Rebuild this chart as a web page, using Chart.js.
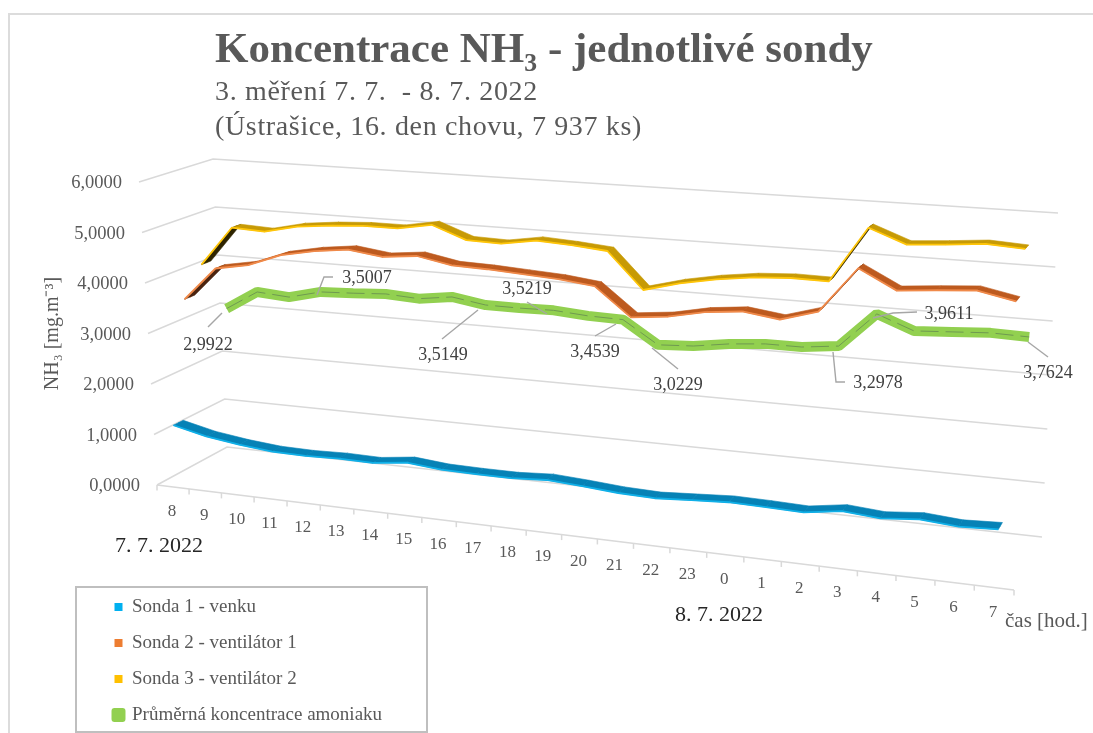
<!DOCTYPE html>
<html><head><meta charset="utf-8">
<style>html,body{margin:0;padding:0;background:#fff}canvas{display:block}</style>
<script src="https://cdn.jsdelivr.net/npm/chart.js@4/dist/chart.umd.js"></script>
</head><body><canvas id="c" width="1093" height="733"></canvas>
<script>
const hours = ['8','9','10','11','12','13','14','15','16','17','18','19','20','21','22','23','0','1','2','3','4','5','6','7'];
const sonda1 = [1.18,1.03,0.94,0.88,0.87,0.89,0.88,0.96,0.90,0.89,0.89,0.93,0.89,0.84,0.82,0.86,0.90,0.89,0.87,0.97,0.92,0.98,0.93,0.96];
const sonda2 = [3.53,4.20,4.32,4.57,4.70,4.78,4.69,4.76,4.63,4.61,4.57,4.53,4.45,3.92,3.99,4.13,4.20,4.11,4.31,5.15,4.80,4.86,4.91,4.77];
const sonda3 = [4.08,4.88,4.85,5.00,5.07,5.11,5.11,5.23,4.98,4.96,5.07,5.03,4.97,4.28,4.46,4.59,4.68,4.72,4.71,5.75,5.49,5.54,5.60,5.56];
const prumer = [2.9922,3.39,3.34,3.5007,3.53,3.57,3.53,3.62,3.5149,3.51,3.5219,3.47,3.4539,3.0229,3.06,3.16,3.22,3.22,3.2978,3.9611,3.70,3.74,3.78,3.7624];
const seriesNames = ['Sonda 1 - venku','Sonda 2 - ventilátor 1','Sonda 3 - ventilátor 2','Průměrná koncentrace amoniaku'];
const titleText = 'Koncentrace NH₃ - jednotlivé sondy';
const subtitleLines = ['3. měření 7. 7.  - 8. 7. 2022','(Ústrašice, 16. den chovu, 7 937 ks)'];
const labelledIndexes = [0,3,8,10,12,13,18,19,23];

const SERIF = '"Liberation Serif", serif';
const GREY = '#595959';

/* box of the 3-D plot: the eight corners, in screen pixels */
const box = {
  flb:[157,485], flt:[139,182], blb:[227,447], blt:[213,159],
  brb:[1042,537], brt:[1058,213], frb:[1014,590], frt:[1032,242]
};
const K = 1.118;
const lerp = (a,b,t)=>a+(b-a)*t;
const lerp2 = (a,b,t)=>[lerp(a[0],b[0],t),lerp(a[1],b[1],t)];
function project(chart,px,py,d){
  const a = chart.chartArea;
  const u = (px-a.left)/(a.right-a.left);
  const v = (a.bottom-py)/(a.bottom-a.top);
  const s = u/(u+(1-u)*K);
  const fl = lerp2(box.flb,box.flt,v), bl = lerp2(box.blb,box.blt,v);
  const fr = lerp2(box.frb,box.frt,v), br = lerp2(box.brb,box.brt,v);
  return lerp2(lerp2(fl,bl,d),lerp2(fr,br,d),s);
}
const depthOf = i => (2*i+1)/8;

class SlantX extends Chart.CategoryScale {
  _computeLabelItems(ca){
    const items = super._computeLabelItems(ca);
    items.forEach(it=>{
      const p = project(this.chart,it.options.translation[0],this.chart.chartArea.bottom,0);
      it.options.translation = [p[0]-1,p[1]+24.5];
      it.options.textAlign = 'center';
      it.options.textBaseline = 'middle';
      it.textOffset = 0;
    });
    return items;
  }
}
SlantX.id = 'slantX';
SlantX.defaults = Chart.CategoryScale.defaults;
class SlantY extends Chart.LinearScale {
  _computeLabelItems(ca){
    const items = super._computeLabelItems(ca);
    items.forEach(it=>{
      const p = project(this.chart,this.chart.chartArea.left,it.options.translation[1],0);
      it.options.translation = [p[0]-17,p[1]+1.5];
      it.options.textAlign = 'right';
      it.options.textBaseline = 'middle';
      it.textOffset = 0;
    });
    return items;
  }
}
SlantY.id = 'slantY';
SlantY.defaults = Chart.LinearScale.defaults;
Chart.register(SlantX,SlantY);

const ribbons = [
  {half:0.07, face:'#0682b6', under:'#0682b6', edge:'#10b0e8'},
  {half:0.07, face:'#bd5a1f', under:'#4a2410', edge:'#f08a4a'},
  {half:0.065, face:'#c79a05', under:'#2e2400', edge:'#ffc60a'},
  null
];
const leaders = {
  0:{pts:[[222,313],[208,327]], text:[208,345]},
  3:{pts:[[317,295],[324,277],[333,277]], text:[367,278]},
  8:{pts:[[478,310],[442,339]], text:[443,355]},
  10:{pts:[[547,314],[527,302]], text:[527,289]},
  12:{pts:[[616,324],[595,336]], text:[595,352]},
  13:{pts:[[652,348],[678,369]], text:[678,385]},
  18:{pts:[[833,352],[836,382],[845,382]], text:[878,383]},
  19:{pts:[[873,318],[893,313],[917,312]], text:[949,314]},
  23:{pts:[[1028,342],[1048,357]], text:[1048,373]}
};
const notes = [
  {text:'7. 7. 2022', x:115, y:546, size:22, color:'#262626'},
  {text:'8. 7. 2022', x:675, y:615, size:22, color:'#262626'},
  {text:'čas [hod.]', x:1005, y:621, size:21, color:GREY}
];

const projector = {
  id:'projector',
  afterLayout(chart){
    chart.boxes.forEach(b=>{
      if(b.options && b.options.text && b.position==='top'){
        b.left = 215; b.right = 1000;
        if(Array.isArray(b.options.text) && !b.$spaced){
          const orig = b.draw;
          b.draw = function(){
            const ctx = chart.ctx;
            ctx.letterSpacing = '0.65px';
            orig.apply(b,arguments);
            ctx.letterSpacing = '0px';
          };
          b.$spaced = true;
        }
      }
    });
    const lg = chart.legend;
    lg.left = 97.5; lg.top = 580.5; lg.right = 425; lg.bottom = 2000;
  },
  afterDatasetsUpdate(chart){
    chart.data.datasets.forEach((ds,i)=>{
      const meta = chart.getDatasetMeta(i), x = chart.scales.x, y = chart.scales.y;
      ds.data.forEach((val,j)=>{
        const p = project(chart,x.getPixelForValue(j),y.getPixelForValue(val),depthOf(i));
        meta.data[j].x = p[0]; meta.data[j].y = p[1];
      });
      if(meta.dataset) meta.dataset._path = undefined;
    });
  },
  beforeDraw(chart){
    const c = chart.ctx;
    c.save();
    c.fillStyle = '#dcdcdc';
    c.fillRect(8,13,1085,2);
    c.fillRect(8,13,2,720);
    c.strokeStyle = '#bfbfbf'; c.lineWidth = 2;
    c.strokeRect(76,587,351,145);
    c.restore();
  },
  beforeDatasetsDraw(chart){
    const c = chart.ctx, a = chart.chartArea, y = chart.scales.y;
    c.save();
    c.strokeStyle = '#d9d9d9'; c.lineWidth = 1.5;
    y.ticks.forEach(t=>{
      const py = y.getPixelForValue(t.value);
      const p0 = project(chart,a.left,py,0), p1 = project(chart,a.left,py,1), p2 = project(chart,a.right,py,1);
      c.beginPath(); c.moveTo(p0[0],p0[1]); c.lineTo(p1[0],p1[1]); c.lineTo(p2[0],p2[1]); c.stroke();
    });
    const f0 = project(chart,a.left,a.bottom,0), f1 = project(chart,a.right,a.bottom,0);
    c.beginPath(); c.moveTo(f0[0],f0[1]); c.lineTo(f1[0],f1[1]); c.stroke();
    const step = (a.right-a.left)/hours.length;
    hours.concat(['']).forEach((h,i)=>{
      const p = project(chart,a.left+i*step,a.bottom,0);
      c.beginPath(); c.moveTo(p[0],p[1]); c.lineTo(p[0],p[1]+5.5); c.stroke();
    });
    c.restore();
  },
  afterDatasetDraw(chart,args){
    const i = args.index, r = ribbons[i], c = chart.ctx, ds = chart.data.datasets[i];
    const x = chart.scales.x, y = chart.scales.y, d = depthOf(i);
    c.save();
    if(r){
      const f = [], b = [];
      ds.data.forEach((val,j)=>{
        const px = x.getPixelForValue(j), py = y.getPixelForValue(val);
        f.push(project(chart,px,py,d-r.half)); b.push(project(chart,px,py,d+r.half));
      });
      c.lineWidth = 0.6; c.lineJoin = 'round';
      for(let j=0;j<f.length-1;j++){
        const sx=f[j+1][0]-f[j][0], sy=f[j+1][1]-f[j][1], dx=b[j][0]-f[j][0], dy=b[j][1]-f[j][1];
        const col = (sx*dy-sy*dx)>0 ? r.under : r.face;
        c.fillStyle = col; c.strokeStyle = col;
        c.beginPath(); c.moveTo(f[j][0],f[j][1]); c.lineTo(f[j+1][0],f[j+1][1]);
        c.lineTo(b[j+1][0],b[j+1][1]); c.lineTo(b[j][0],b[j][1]); c.closePath(); c.fill(); c.stroke();
      }
      c.strokeStyle = r.edge; c.lineWidth = 1.8;
      c.beginPath(); f.forEach((p,j)=> j? c.lineTo(p[0],p[1]) : c.moveTo(p[0],p[1])); c.stroke();
    } else {
      const pts = chart.getDatasetMeta(i).data;
      c.strokeStyle = '#6f9a50'; c.lineWidth = 1; c.setLineDash([18,7]);
      c.beginPath(); pts.forEach((p,j)=> j? c.lineTo(p.x,p.y) : c.moveTo(p.x,p.y)); c.stroke();
    }
    c.restore();
  },
  afterDraw(chart){
    const c = chart.ctx;
    c.save();
    c.font = '18px '+SERIF; c.textBaseline = 'middle';
    labelledIndexes.forEach(idx=>{
      const l = leaders[idx];
      c.strokeStyle = '#a6a6a6'; c.lineWidth = 1.4;
      c.beginPath(); l.pts.forEach((p,j)=> j? c.lineTo(p[0],p[1]) : c.moveTo(p[0],p[1])); c.stroke();
      c.fillStyle = '#404040'; c.textAlign = 'center';
      c.fillText(prumer[idx].toFixed(4).replace('.',','),l.text[0],l.text[1]);
    });
    c.textAlign = 'left';
    notes.forEach(n=>{
      c.font = n.size+'px '+SERIF;
      c.fillStyle = n.color; c.fillText(n.text,n.x,n.y);
    });
    c.restore();
  }
};

new Chart(document.getElementById('c'),{
  type:'line',
  data:{
    labels:hours,
    datasets:[
      {label:seriesNames[0],data:sonda1,borderColor:'#10b0e8',backgroundColor:'#00b0f0',borderWidth:1.5},
      {label:seriesNames[1],data:sonda2,borderColor:'#f08a4a',backgroundColor:'#ed7d31',borderWidth:1.5},
      {label:seriesNames[2],data:sonda3,borderColor:'#ffc60a',backgroundColor:'#ffc000',borderWidth:1.5},
      {label:seriesNames[3],data:prumer,borderColor:'#92d050',backgroundColor:'#92d050',borderWidth:10}
    ]
  },
  plugins:[projector],
  options:{
    responsive:false, animation:false, devicePixelRatio:1,
    events:[],
    layout:{padding:{left:0,right:79,top:0,bottom:0}},
    datasets:{line:{pointRadius:0,tension:0,clip:false,borderJoinStyle:'bevel',fill:false}},
    plugins:{
      tooltip:{enabled:false},
      title:{display:true,text:titleText,align:'start',color:GREY,
        font:{family:SERIF,size:43,weight:'bold',lineHeight:1.15},padding:{top:26,bottom:0}},
      subtitle:{display:true,text:subtitleLines,align:'start',color:GREY,
        font:{family:SERIF,size:28,lineHeight:1.25},padding:{top:0,bottom:36.55}},
      legend:{display:true,position:'chartArea',align:'start',
        labels:{boxWidth:8,boxHeight:8,padding:17,color:GREY,font:{family:SERIF,size:19},
          generateLabels(chart){
            return chart.data.datasets.map((ds,i)=>({
              text:ds.label,fillStyle:ds.backgroundColor,strokeStyle:ds.backgroundColor,fontColor:GREY,
              lineWidth:i===3?6:0,datasetIndex:i,hidden:false,lineJoin:'round'
            }));
          }}}
    },
    scales:{
      x:{type:'slantX',offset:true,grid:{display:false},border:{display:false},
        ticks:{autoSkip:false,maxRotation:0,minRotation:0,color:GREY,font:{family:SERIF,size:17}},
        afterFit(s){s.height=248;}},
      y:{type:'slantY',min:0,max:6,grid:{display:false},border:{display:false},
        title:{display:true,text:'NH₃ [mg.m⁻³]',color:GREY,font:{family:SERIF,size:20},padding:{top:41,bottom:0}},
        ticks:{stepSize:1,color:GREY,font:{family:SERIF,size:18.5},
          callback:v=>Number(v).toFixed(4).replace('.',',')},
        afterFit(s){s.width=157;}}
    }
  }
});
</script></body></html>
